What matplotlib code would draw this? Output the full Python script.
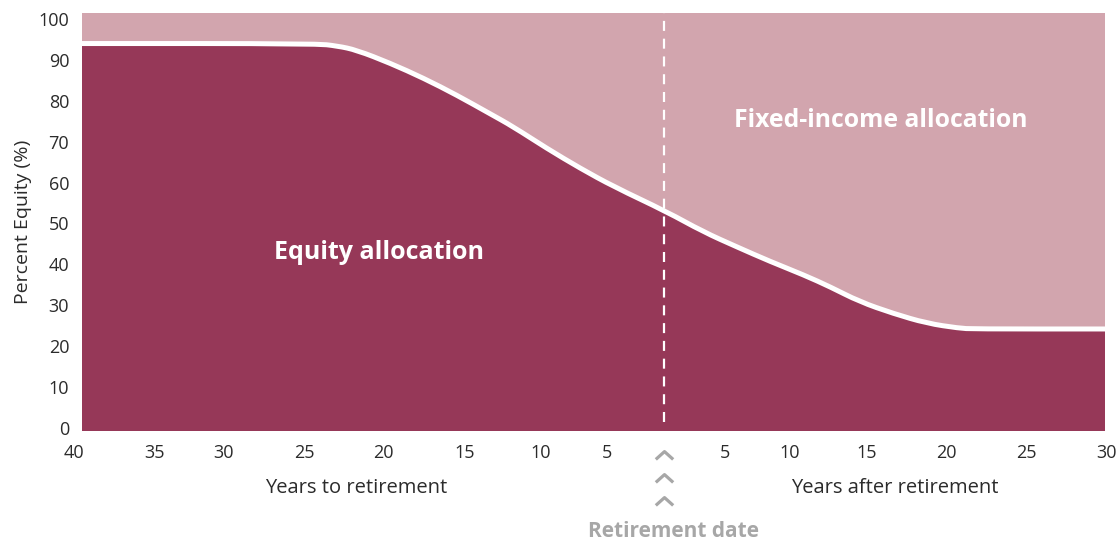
import numpy as np
import matplotlib
matplotlib.use("Agg")
import matplotlib.pyplot as plt
from matplotlib.path import Path
from matplotlib.patches import PathPatch

plt.rcParams["font.family"] = ["Open Sans", "DejaVu Sans"]

# Glide path: years relative to retirement (negative = before) vs percent equity
years = [-40, -24, -22.5, -21.2, -18.9, -16.6, -14.35, -12.1, -10.5, -8.2, -5.9,
         -3.6, 0, 2.5, 4.8, 7.1, 9.4, 11.2, 13.2, 15.5, 17.8, 20, 21, 30]
equity = [94, 94, 93.4, 92.4, 89.2, 85.5, 81.4, 76.9, 73.7, 68.4, 63.5,
          59.0, 52.9, 48.0, 44.3, 40.7, 37.4, 34.5, 30.9, 28.0, 25.6, 24.4, 24.2, 24.2]

# Tick labels (placement follows the original artwork, which is not evenly spaced)
xtick_labels = ["40", "35", "30", "25", "20", "15", "10", "5",
                "5", "10", "15", "20", "25", "30"]
xtick_pos = [-40.53, -34.99, -30.27, -24.79, -19.39, -13.78, -8.60, -4.07,
             4.00, 8.45, 13.70, 19.17, 24.64, 30.11]
yticks = list(range(0, 101, 10))

EQ_COLOR = "#963858"
FI_COLOR = "#D2A5AE"
GRAY = "#A7A7A7"
TEXT = "#2b2b2b"

YMIN, YMAX = -0.75, 101.4


def smooth_path(xs, ys):
    """Quadratic bezier through midpoints, data points used as control points."""
    pts = np.column_stack([xs, ys])
    verts = [pts[0], (pts[0] + pts[1]) / 2]
    codes = [Path.MOVETO, Path.LINETO]
    for i in range(1, len(pts) - 1):
        verts += [pts[i], (pts[i] + pts[i + 1]) / 2]
        codes += [Path.CURVE3, Path.CURVE3]
    verts.append(pts[-1])
    codes.append(Path.LINETO)
    return verts, codes


fig = plt.figure(figsize=(11.17, 5.44), dpi=100)
ax = fig.add_axes([0.0731, 0.2077, 0.9162, 0.7679])
ax.set_facecolor(FI_COLOR)

verts, codes = smooth_path(years, equity)
fill_verts = verts + [(years[-1], YMIN), (years[0], YMIN), verts[0]]
fill_codes = codes + [Path.LINETO, Path.LINETO, Path.CLOSEPOLY]
ax.add_patch(PathPatch(Path(fill_verts, fill_codes), facecolor=EQ_COLOR, lw=0))
ax.add_patch(PathPatch(Path(verts, codes), facecolor="none", edgecolor="white",
                       lw=3.6, capstyle="butt", joinstyle="round"))

# retirement date marker
ax.plot([-0.2, -0.2], [1.5, YMAX], color="white", lw=1.6, ls=(0, (4.5, 3.5)))

ax.set_xlim(-40, 30)
ax.set_ylim(YMIN, YMAX)
for s in ax.spines.values():
    s.set_visible(False)

ax.set_yticks(yticks)
ax.set_yticklabels([str(v) for v in yticks], fontsize=13, color=TEXT)
ax.tick_params(axis="y", length=0, pad=9)
ax.set_xticks([])

tr = ax.get_xaxis_transform()
for pos, lab in zip(xtick_pos, xtick_labels):
    ax.text(pos, -0.053, lab, transform=tr, ha="center", va="center",
            fontsize=13, color=TEXT)

ax.text(-21.2, -0.136, "Years to retirement", transform=tr, ha="center",
        va="center", fontsize=14.5, color=TEXT)
ax.text(15.6, -0.136, "Years after retirement", transform=tr, ha="center",
        va="center", fontsize=14.5, color=TEXT)

chevron = Path([(-1, -0.45), (0, 0.45), (1, -0.45)],
               [Path.MOVETO, Path.LINETO, Path.LINETO])
ax.plot([-0.2, -0.2, -0.2], [-0.058, -0.112, -0.167], transform=tr,
        marker=chevron, ms=12.5, mew=2.3, mec=GRAY, mfc="none", ls="none",
        clip_on=False)
ax.text(0.45, -0.241, "Retirement date", transform=tr, ha="center",
        va="center", fontsize=15, color=GRAY, fontweight="bold")

ax.set_ylabel("Percent Equity (%)", fontsize=14, color=TEXT)
ax.yaxis.set_label_coords(-0.049, 0.5)

ax.text(-19.66, 43.0, "Equity allocation", ha="center", va="center",
        fontsize=18, color="white", fontweight="bold")
ax.text(14.67, 75.3, "Fixed-income allocation", ha="center", va="center",
        fontsize=17.8, color="white", fontweight="bold")

fig.savefig("out.png", dpi=100)
